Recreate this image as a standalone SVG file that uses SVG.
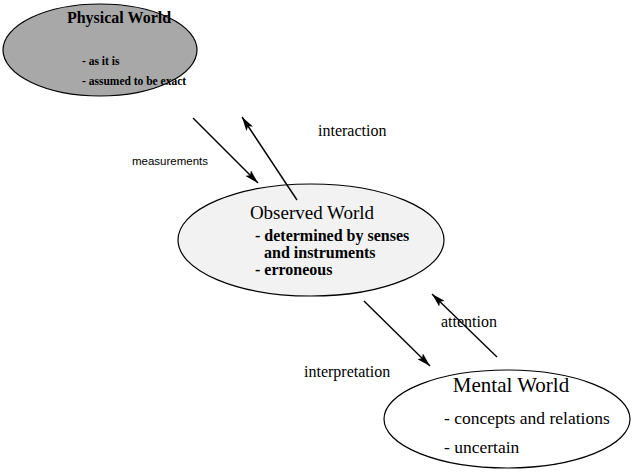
<svg xmlns="http://www.w3.org/2000/svg" width="632" height="472" viewBox="0 0 632 472">
  <defs>
    <marker id="head" viewBox="0 0 14 8" refX="14" refY="4" markerWidth="14" markerHeight="8" markerUnits="userSpaceOnUse" orient="auto">
      <path d="M0,0 L14,4 L0,8 L3,4 Z" fill="#000"/>
    </marker>
    <style>
      .shape { stroke: #000; stroke-width: 1.2; }
      .serif { font-family: "Liberation Serif", "Times New Roman", serif; fill: #000; }
      .sans { font-family: "Liberation Sans", Arial, sans-serif; fill: #000; }
      .b { font-weight: bold; }
      .conn { stroke: #000; stroke-width: 1.4; fill: none; marker-end: url(#head); }
      .lbl { font-size: 16px; }
    </style>
  </defs>
  <rect width="632" height="472" fill="#fff"/>

  <g id="physical-world">
    <ellipse class="shape" cx="100" cy="50" rx="97" ry="46" fill="#a8a8a8"/>
    <text class="serif b" x="119" y="23" font-size="16" text-anchor="middle">Physical World</text>
    <text class="serif b" x="82" y="65" font-size="11.5">- as it is</text>
    <text class="serif b" x="82" y="85" font-size="11.5">- assumed to be exact</text>
  </g>

  <g id="observed-world">
    <ellipse class="shape" cx="311" cy="240" rx="133" ry="56" fill="#f2f2f2"/>
    <text class="serif" x="312" y="219" font-size="19" text-anchor="middle">Observed World</text>
    <text class="serif b" x="255" y="241" font-size="16">- determined by senses</text>
    <text class="serif b" x="264" y="258" font-size="16">and instruments</text>
    <text class="serif b" x="255" y="275" font-size="16">- erroneous</text>
  </g>

  <g id="mental-world">
    <ellipse class="shape" cx="507" cy="419" rx="123" ry="49" fill="#fff"/>
    <text class="serif" x="511" y="392" font-size="21" text-anchor="middle">Mental World</text>
    <text class="serif" x="444" y="424" font-size="17.5">- concepts and relations</text>
    <text class="serif" x="444" y="453" font-size="17.5">- uncertain</text>
  </g>

  <g id="connectors">
    <line class="conn" x1="193" y1="118" x2="258" y2="183"/>
    <line class="conn" x1="297" y1="200" x2="242" y2="117"/>
    <line class="conn" x1="364" y1="301" x2="430" y2="366"/>
    <line class="conn" x1="497" y1="357" x2="432" y2="294"/>
  </g>

  <g id="labels">
    <text class="sans" x="132" y="165" font-size="11.5">measurements</text>
    <text class="serif lbl" x="318" y="136">interaction</text>
    <text class="serif lbl" x="304" y="377">interpretation</text>
    <text class="serif lbl" x="441" y="327">attention</text>
  </g>
</svg>
